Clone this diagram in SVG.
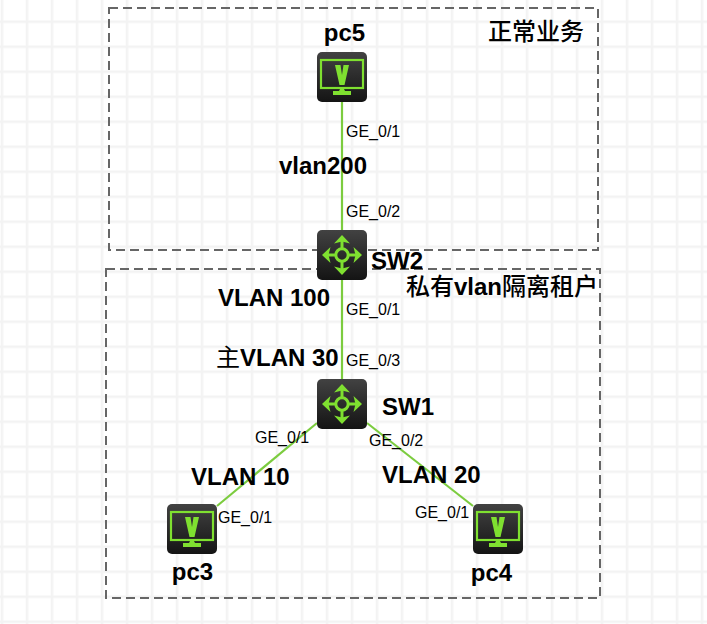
<svg xmlns="http://www.w3.org/2000/svg" width="707" height="624" viewBox="0 0 707 624">
<defs>
<pattern id="grid" width="25" height="25" patternUnits="userSpaceOnUse" x="0.750" y="20.500">
<path d="M0 0H2.500V25H0ZM0 0H25V2.500H0Z" fill="#f3f3f3"/>
</pattern>
<linearGradient id="bg" x1="0" y1="0" x2="0" y2="1">
<stop offset="0" stop-color="#424242"/><stop offset="1" stop-color="#141414"/>
</linearGradient>
<g id="pc">
<rect width="50" height="50" rx="5" fill="url(#bg)"/>
<rect x="4" y="8" width="42" height="28" fill="none" stroke="#7fe030" stroke-width="2.200"/>
<path d="M18 13H23.500L25 23L26.500 13H32L27.500 33H22.500Z" fill="#7fe030"/>
<path d="M23.500 36H26.500L28 39H34V43H16V39H22Z" fill="#7fe030"/>
</g>
<g id="sw">
<rect width="50" height="50" rx="5" fill="url(#bg)"/>
<g fill="none" stroke="#7fe030" stroke-width="3">
<circle cx="25" cy="25" r="6.200"/>
<path d="M25 19V11M25 31V39M19 25H11M31 25H39"/>
</g>
<path d="M25 5L33 13.500L25 11.500L17 13.500ZM25 45L33 36.500L25 38.500L17 36.500ZM5 25L13.500 17L11.500 25L13.500 33ZM45 25L36.500 17L38.500 25L36.500 33Z" fill="#7fe030"/>
</g>
</defs>
<style>
text{font-family:"Liberation Sans",Arial,"Noto Sans CJK SC",sans-serif;fill:#000}
.p{font-size:16px}
.b{font-size:24px;font-weight:700}
.h{font-family:"Noto Sans CJK SC",sans-serif;font-weight:500}
.n{font-family:"Noto Sans CJK SC",sans-serif;font-weight:400}
.z{fill:none;stroke:#666;stroke-width:2;stroke-dasharray:9 5}
.c{fill:none;stroke:#7ccc3f;stroke-width:2.200}
</style>
<rect width="707" height="624" fill="#fff"/>
<rect width="707" height="624" fill="url(#grid)"/>
<g id="zones">
<rect class="z" x="109" y="8" width="489" height="242"/>
<rect class="z" x="106" y="269" width="494" height="329"/>
</g>
<g id="connectors">
<path class="c" d="M342 102V230"/>
<path class="c" d="M342 280V379"/>
<path class="c" d="M317 423L217 506"/>
<path class="c" d="M367 423L473 506"/>
</g>
<g id="pc5"><use href="#pc" x="317" y="52"/><text class="b" x="344.500" y="41" text-anchor="middle">pc5</text></g>
<g id="sw2"><use href="#sw" x="317" y="230"/><text class="b" x="371" y="269">SW2</text></g>
<g id="sw1"><use href="#sw" x="317" y="379"/><text class="b" x="382" y="415">SW1</text></g>
<g id="pc3"><use href="#pc" x="167" y="504"/><text class="b" x="192.500" y="580" text-anchor="middle">pc3</text></g>
<g id="pc4"><use href="#pc" x="473" y="504"/><text class="b" x="491.500" y="581" text-anchor="middle">pc4</text></g>
<g id="labels">
<text class="b h" x="488" y="40">正常业务</text>
<text class="b" x="406" y="295"><tspan class="h">私有</tspan>vlan<tspan class="h">隔离租户</tspan></text>
<text class="b" x="279" y="174">vlan200</text>
<text class="b" x="218" y="306">VLAN 100</text>
<text class="b" x="216" y="366"><tspan class="n">主</tspan>VLAN 30</text>
<text class="b" x="191" y="485">VLAN 10</text>
<text class="b" x="382" y="483">VLAN 20</text>
<text class="p" x="346" y="137">GE_0/1</text>
<text class="p" x="346" y="217">GE_0/2</text>
<text class="p" x="346" y="315">GE_0/1</text>
<text class="p" x="346" y="366">GE_0/3</text>
<text class="p" x="255" y="443">GE_0/1</text>
<text class="p" x="369" y="446">GE_0/2</text>
<text class="p" x="218" y="523">GE_0/1</text>
<text class="p" x="415" y="518">GE_0/1</text>
</g>
</svg>
